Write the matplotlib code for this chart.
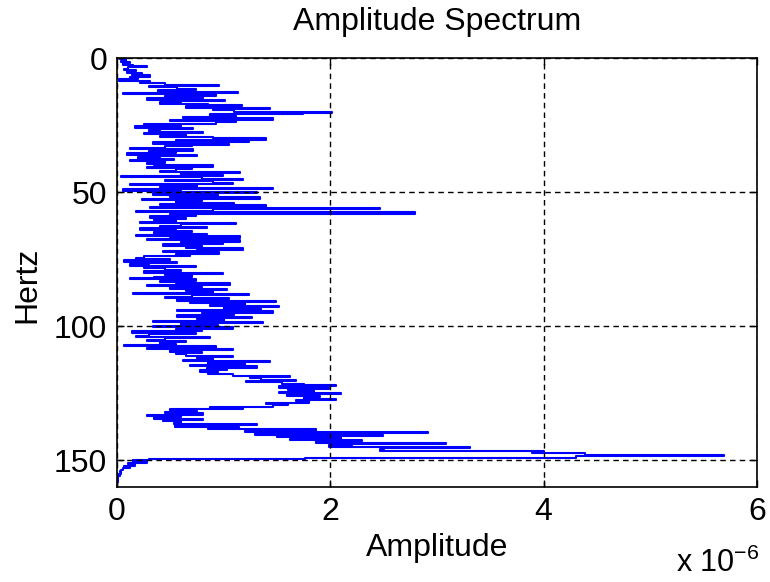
import numpy as np
import matplotlib
matplotlib.use("Agg")
from matplotlib import pyplot as plt

plt.rcParams['font.family'] = ['Liberation Sans', 'DejaVu Sans']
plt.rcParams['mathtext.fontset'] = 'custom'
plt.rcParams['mathtext.rm'] = 'Liberation Sans'

# amplitude spectrum, units of 1e-6, one value every 0.5 Hz from 0 to 160 Hz
amplitude = [
    0.00, 0.03, 0.08, 0.04, 0.12, 0.06, 0.15, 0.28, 0.10, 0.07,
    0.18, 0.09, 0.23, 0.14, 0.31, 0.12, 0.20, 0.02, 0.31, 0.22,
    0.45, 0.96, 0.30, 0.56, 0.74, 0.38, 1.13, 0.06, 0.93, 0.45,
    0.81, 0.28, 1.01, 0.60, 0.40, 0.85, 1.17, 0.65, 1.43, 0.90,
    1.10, 2.02, 1.74, 0.87, 1.12, 0.62, 1.46, 0.50, 1.12, 0.93,
    0.25, 0.60, 0.17, 0.71, 0.40, 0.30, 0.81, 0.25, 0.65, 0.40,
    0.90, 1.40, 0.55, 1.24, 0.34, 1.05, 0.70, 0.45, 0.12, 0.71,
    0.30, 0.55, 0.09, 0.75, 0.40, 0.20, 0.53, 0.12, 0.45, 0.28,
    0.35, 0.90, 0.28, 0.70, 0.55, 0.40, 1.15, 0.60, 0.99, 0.04,
    0.80, 1.18, 0.45, 0.90, 1.09, 0.12, 0.75, 0.40, 1.46, 0.06,
    0.60, 1.31, 0.34, 0.95, 0.50, 1.34, 0.23, 0.80, 0.55, 1.10,
    0.40, 1.40, 0.31, 2.47, 0.90, 0.18, 2.79, 0.50, 0.74, 0.31,
    0.65, 0.35, 0.55, 0.22, 1.12, 0.60, 0.40, 0.84, 0.22, 0.55,
    0.70, 0.35, 0.84, 0.18, 1.15, 0.50, 0.28, 1.15, 0.60, 0.99,
    0.43, 0.80, 0.65, 1.18, 0.75, 0.43, 0.96, 0.55, 0.68, 0.25,
    0.18, 0.50, 0.07, 0.56, 0.30, 0.12, 0.74, 0.25, 0.45, 0.60,
    0.25, 0.99, 0.45, 0.70, 0.35, 0.12, 0.74, 0.40, 0.55, 1.06,
    0.28, 0.80, 0.50, 1.03, 0.65, 0.90, 0.15, 1.24, 0.70, 0.45,
    1.05, 0.56, 1.49, 0.68, 1.20, 0.87, 1.52, 1.00, 1.35, 0.56,
    1.46, 0.80, 1.10, 0.56, 1.27, 0.75, 1.00, 0.34, 1.37, 0.60,
    0.95, 0.34, 1.09, 0.55, 0.80, 0.14, 0.74, 0.30, 0.18, 0.87,
    0.45, 0.28, 0.65, 0.40, 0.55, 0.07, 0.93, 0.28, 1.09, 0.50,
    0.80, 0.55, 0.65, 1.09, 0.75, 0.90, 0.62, 1.43, 0.85, 1.20,
    0.68, 1.31, 0.84, 1.03, 0.78, 0.95, 0.85, 1.09, 1.62, 1.25,
    1.35, 1.68, 1.21, 1.55, 1.75, 2.05, 1.52, 1.99, 1.60, 1.85,
    1.52, 2.10, 1.59, 1.90, 1.75, 2.05, 1.68, 1.80, 1.40, 1.60,
    1.46, 0.87, 1.18, 0.50, 0.75, 0.45, 0.81, 0.28, 0.60, 0.35,
    0.81, 0.43, 0.60, 0.53, 1.31, 0.54, 1.14, 0.85, 1.87, 1.20,
    2.92, 1.29, 2.49, 1.50, 2.10, 1.62, 2.30, 1.87, 3.08, 2.20,
    1.99, 3.31, 2.50, 2.47, 4.00, 3.89, 4.39, 5.69, 4.30, 1.76,
    0.30, 0.15, 0.28, 0.10, 0.17, 0.07, 0.12, 0.06, 0.04, 0.03,
    0.04, 0.02, 0.03, 0.01, 0.01, 0.005, 0.005, 0.003, 0.002, 0.001, 0.0,
]
hertz = np.arange(0, 160.5, 0.5)

x_ticks = [0, 2, 4, 6]
y_ticks = [0, 50, 100, 150]

fig = plt.figure(figsize=(7.7, 5.82), dpi=100)
ax = fig.add_axes([117 / 770, 1 - 487 / 582, 640 / 770, 429 / 582])

ax.plot(amplitude, hertz, color=(0, 0, 1), lw=1.5, drawstyle="steps-post")

ax.set_xlim(0, 6)
ax.set_ylim(160, 0)
ax.set_xticks(x_ticks)
ax.set_yticks(y_ticks)
ax.set_xticklabels([str(t) for t in x_ticks])
ax.set_yticklabels([str(t) for t in y_ticks])

ax.grid(True, color="black", linestyle=(0, (4, 3)), linewidth=1.0)
ax.set_axisbelow(False)
ax.tick_params(direction="in", length=5, width=1.0, labelsize=23,
               top=True, right=True, pad=7)
for s in ax.spines.values():
    s.set_linewidth(1.2)

fig.text(437 / 770, 1 - 22 / 582, "Amplitude Spectrum", ha="center", va="center", fontsize=23)
fig.text(437 / 770, 1 - 548 / 582, "Amplitude", ha="center", va="center", fontsize=23)
fig.text(27 / 770, 1 - 285 / 582, "Hertz", ha="center", va="center", rotation=90, fontsize=23)
fig.text(759 / 770, 1 - 572 / 582, "x 10$^{\\mathrm{-6}}$", ha="right", va="baseline", fontsize=22)

fig.savefig("out.png", dpi=100)
